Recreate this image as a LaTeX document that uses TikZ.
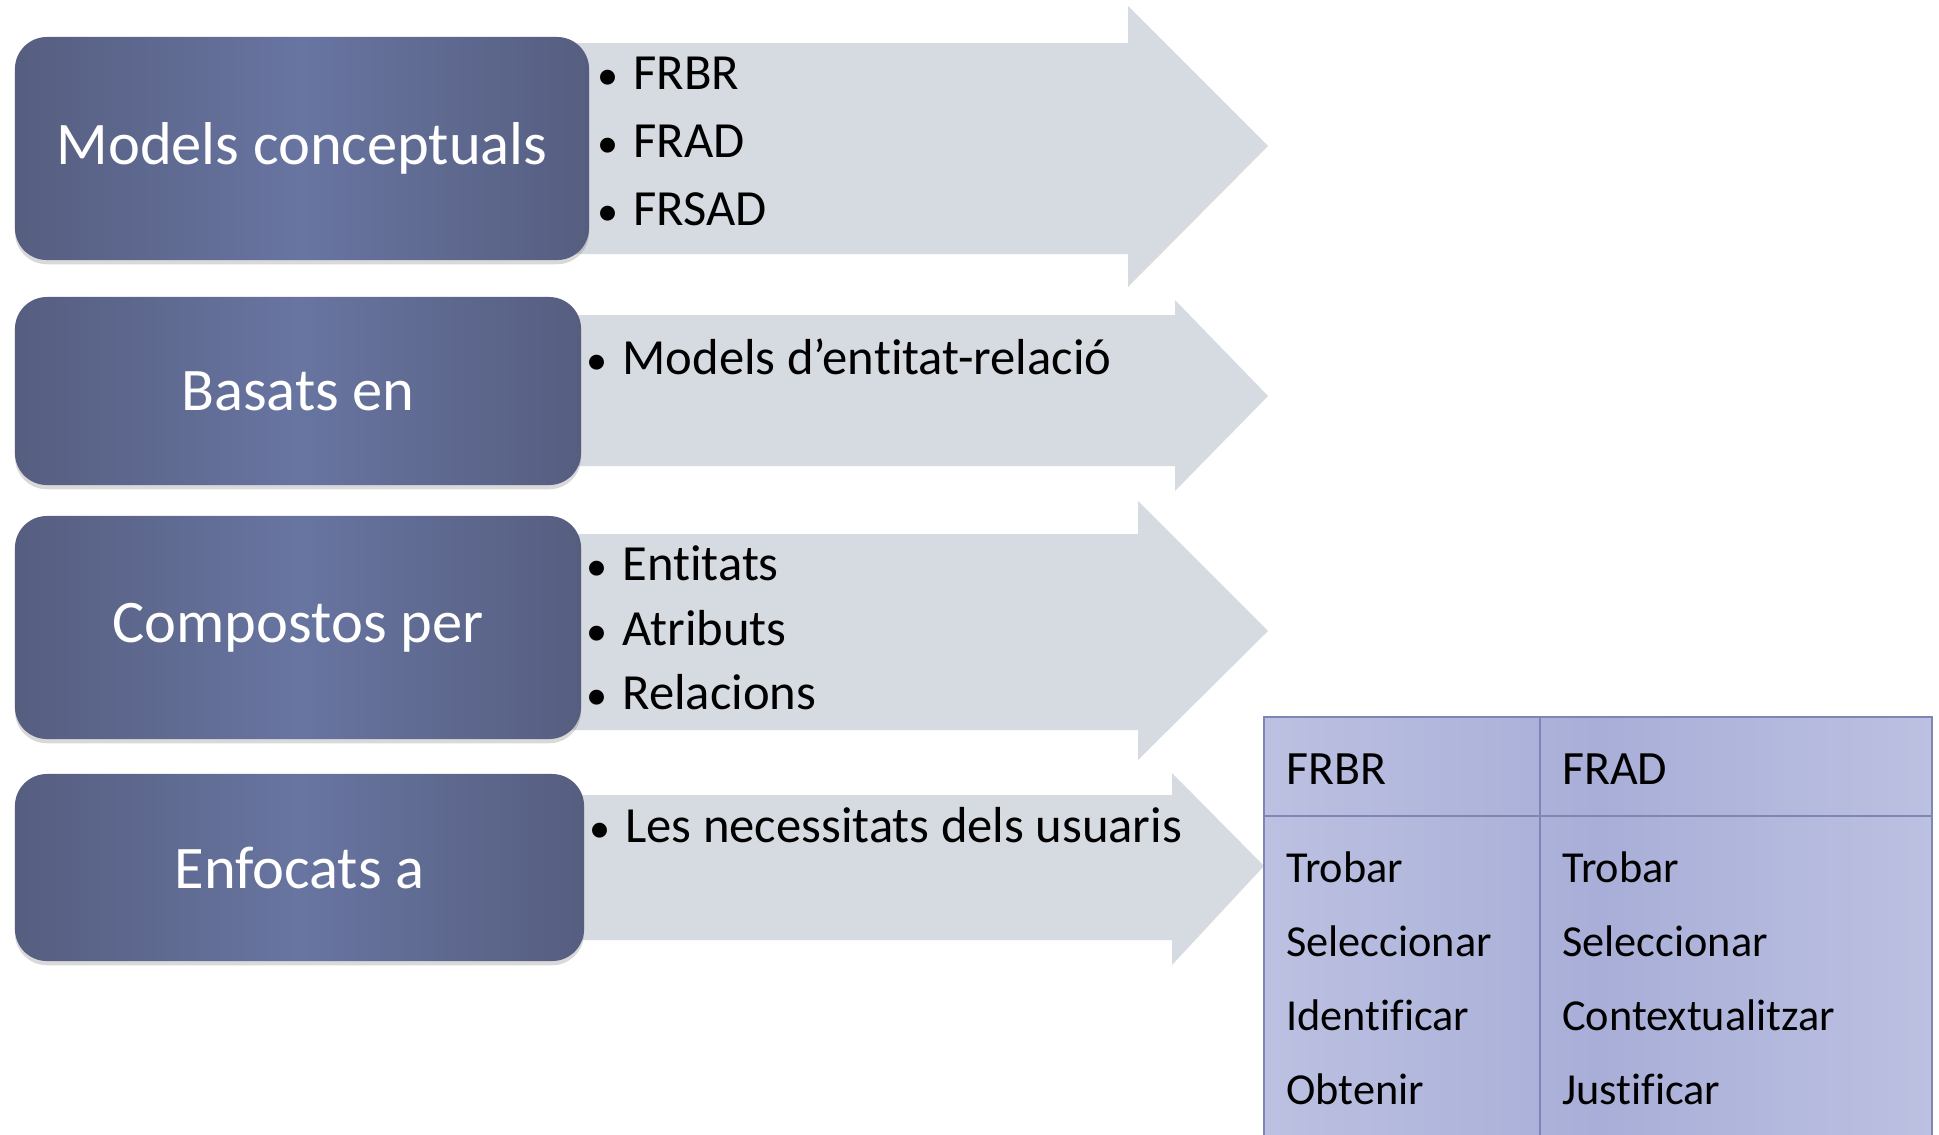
\documentclass[tikz,border=0pt]{standalone}
\usepackage{fontspec}
\setmainfont{Carlito}[Ligatures=NoCommon]
\usetikzlibrary{shadows}
\definecolor{boxdark}{RGB}{86,94,128}
\definecolor{boxlight}{RGB}{104,117,161}
\definecolor{arrowgray}{RGB}{214,218,225}
\definecolor{tabfill}{RGB}{168,174,215}
\definecolor{tablight}{RGB}{188,193,226}
\definecolor{tabline}{RGB}{126,134,182}
\tikzset{
    catbox/.style={rounded corners=0.8cm, left color=boxdark, right color=boxdark, middle color=boxlight,
        text=white, font=\fontsize{43}{50}\selectfont,
        drop shadow={shadow xshift=0pt, shadow yshift=-3pt, opacity=0.3}},
    bigarrow/.style={fill=arrowgray},
    item/.style={anchor=base west, inner sep=0pt, font=\fontsize{36}{42}\selectfont},
    cell/.style={anchor=base west, inner sep=0pt, font=\fontsize{31.5}{38}\selectfont}
}
\newcommand{\bul}{{\fontsize{30}{36}\selectfont\textbullet}\hspace{0.3em}}

\begin{document}
\begin{tikzpicture}[x=0.025cm,y=-0.025cm]
\clip (0,0) rectangle (1939,1134);
% arrows behind the boxes
\fill[bigarrow] (500,43) -- (1128,43) -- (1128,6) -- (1268,146) -- (1128,287) -- (1128,254) -- (500,254) -- cycle;
\fill[bigarrow] (500,315) -- (1175,315) -- (1175,300) -- (1268,396) -- (1175,491) -- (1175,466) -- (500,466) -- cycle;
\fill[bigarrow] (500,534) -- (1138,534) -- (1138,501) -- (1268,631) -- (1138,760) -- (1138,730) -- (500,730) -- cycle;
\fill[bigarrow] (500,795) -- (1172,795) -- (1172,773) -- (1264,866) -- (1172,965) -- (1172,940) -- (500,940) -- cycle;
% boxes
\node[catbox, minimum width=14.35cm, minimum height=5.575cm] (models) at (302,148.5) {Models conceptuals};
\node[catbox, minimum width=14.15cm, minimum height=4.7cm] (basats) at (298,391) {Basats en};
\node[catbox, minimum width=14.15cm, minimum height=5.575cm] (compostos) at (298,627.5) {Compostos per};
\node[catbox, minimum width=14.225cm, minimum height=4.675cm] (enfocats) at (299.5,867.5) {Enfocats a};
% items
\foreach \t [count=\i] in {FRBR,FRAD,FRSAD}
    \node[item] (m\i) at (597,21.5+68*\i) {\bul\t};
\node[item] (b1) at (586,374) {\bul Models d’entitat-relació};
\foreach \t [count=\i] in {Entitats,Atributs,Relacions}
    \node[item] (c\i) at (586,516+64.5*\i) {\bul\t};
\node[item] (e1) at (589,842) {\bul Les necessitats dels usuaris};
% table
\coordinate (tnw) at (1264,717);
\coordinate (tse) at (1932,1150);
\draw[tabline, line width=1.5pt, left color=tablight, right color=tablight, middle color=tabfill] (tnw) rectangle (tse);
\draw[tabline, line width=1.5pt] (1540,717) -- (1540,1150);
\draw[tabline, line width=1.5pt] (1264,816) -- (1932,816);
\node[cell, font=\fontsize{34}{40}\selectfont] (h1) at (1286,784) {FRBR};
\node[cell, font=\fontsize{34}{40}\selectfont] (h2) at (1562,784) {FRAD};
\foreach \a/\b [count=\i] in {Trobar/Trobar,Seleccionar/Seleccionar,Identificar/Contextualitzar,Obtenir/Justificar}{
    \node[cell] (l\i) at (1286,808+74*\i) {\a};
    \node[cell] (r\i) at (1562,808+74*\i) {\b};
}
\end{tikzpicture}
\end{document}
